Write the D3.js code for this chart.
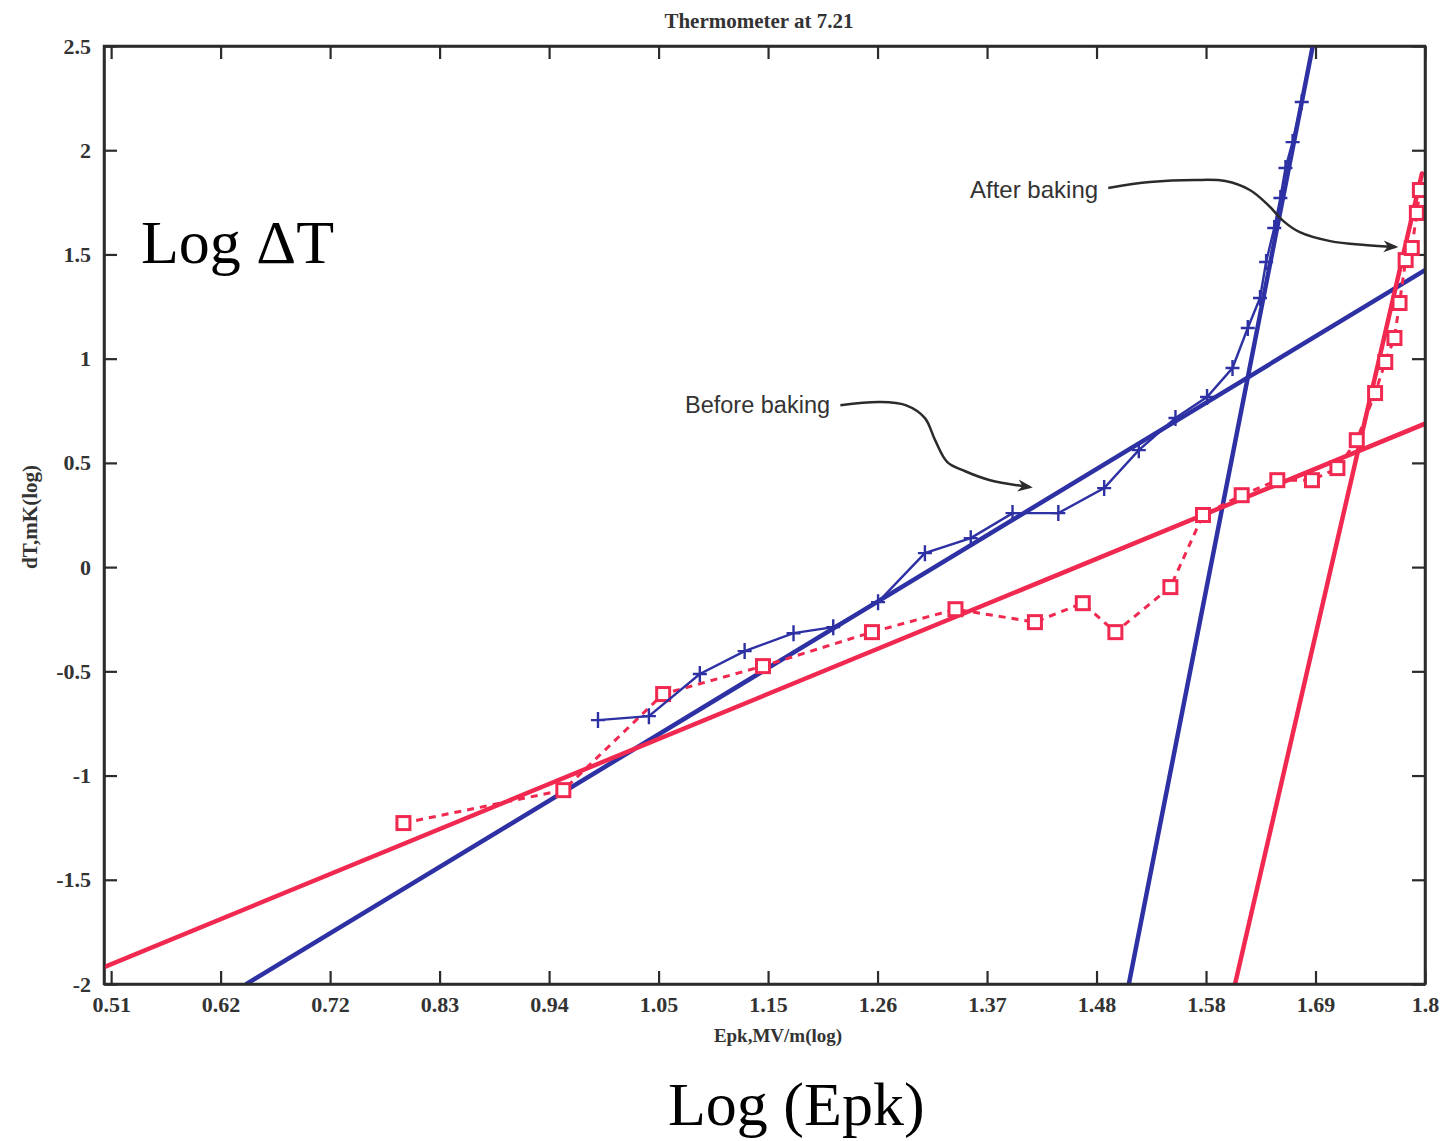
<!DOCTYPE html>
<html>
<head>
<meta charset="utf-8">
<script src="https://cdn.jsdelivr.net/npm/d3@7"></script>
<style>
  html, body { margin: 0; padding: 0; background: #fff; }
  svg { display: block; }
</style>
</head>
<body>
<svg id="chart" width="1450" height="1141"></svg>
<script>
// Measured thermometer response: log peak field (MV/m) vs log temperature rise (mK)
const beforeX = [0.988, 1.038, 1.088, 1.132, 1.180, 1.219, 1.263, 1.309, 1.354, 1.395, 1.440, 1.485,
                 1.519, 1.555, 1.586, 1.611, 1.626, 1.638, 1.644, 1.652, 1.658, 1.663, 1.670, 1.679];
const beforeY = [-0.734, -0.715, -0.513, -0.403, -0.317, -0.288, -0.168, 0.067, 0.139, 0.259, 0.259, 0.379,
                 0.561, 0.715, 0.816, 0.955, 1.147, 1.291, 1.464, 1.627, 1.771, 1.915, 2.039, 2.231];

const afterX = [0.797, 0.954, 1.052, 1.150, 1.257, 1.339, 1.417, 1.464, 1.496, 1.550, 1.582, 1.620,
                1.655, 1.689, 1.714, 1.733, 1.751, 1.761, 1.770, 1.775, 1.781, 1.787, 1.792, 1.795];
const afterY = [-1.228, -1.070, -0.609, -0.475, -0.312, -0.202, -0.264, -0.173, -0.312, -0.096, 0.250, 0.345,
                0.417, 0.417, 0.475, 0.609, 0.835, 0.984, 1.099, 1.267, 1.473, 1.531, 1.699, 1.809];

// Straight-line fits: slope, intercept and the x span each one covers
const fitSeries    = ["before", "before", "after", "after"];
const fitSlopes    = [2.96, 24.92, 2.01, 21.19];
const fitIntercept = [-3.903, -39.61, -2.93, -36.19];
const fitFrom      = [0.643, 1.5094, 0.503, 1.6134];
const fitTo        = [1.8, 1.690, 1.8, 1.797];

// Callout arrows (data coordinates)
const afterArrowX  = [1.489, 1.530, 1.574, 1.604, 1.628, 1.646, 1.661, 1.677, 1.707, 1.741, 1.771];
const afterArrowY  = [1.819, 1.847, 1.857, 1.852, 1.809, 1.737, 1.660, 1.607, 1.564, 1.545, 1.536];
const beforeArrowX = [1.226, 1.265, 1.290, 1.309, 1.319, 1.331, 1.348, 1.373, 1.412];
const beforeArrowY = [0.777, 0.792, 0.777, 0.715, 0.609, 0.504, 0.461, 0.417, 0.384];

// Axis ticks
const xTickValues = [0.51, 0.6175, 0.725, 0.8325, 0.94, 1.0475, 1.155, 1.2625, 1.37, 1.4775, 1.585, 1.6925, 1.8];
const xTickLabels = ["0.51", "0.62", "0.72", "0.83", "0.94", "1.05", "1.15", "1.26", "1.37", "1.48", "1.58", "1.69", "1.8"];
const yTickValues = [-2, -1.5, -1, -0.5, 0, 0.5, 1, 1.5, 2, 2.5];
const yTickLabels = ["-2", "-1.5", "-1", "-0.5", "0", "0.5", "1", "1.5", "2", "2.5"];

const BLUE = "#2d31a3";
const RED = "#f1284f";
const INK = "#2b2b2b";
const SERIF = "'Liberation Serif', 'Times New Roman', serif";
const SANS = "'Liberation Sans', Arial, sans-serif";

const svg = d3.select("#chart");
const plotLeft = 104, plotRight = 1425, plotTop = 46, plotBottom = 984;

const x = d3.scaleLinear().domain([0.503, 1.8]).range([plotLeft, plotRight]);
const y = d3.scaleLinear().domain([-2, 2.5]).range([plotBottom, plotTop]);

svg.append("rect").attr("width", 1450).attr("height", 1141).attr("fill", "#fff");

const defs = svg.append("defs");
defs.append("clipPath").attr("id", "plot-clip")
  .append("rect").attr("x", plotLeft).attr("y", plotTop)
  .attr("width", plotRight - plotLeft).attr("height", plotBottom - plotTop);
defs.append("marker")
  .attr("id", "arrowhead")
  .attr("viewBox", "0 0 10 10")
  .attr("refX", 8).attr("refY", 5)
  .attr("markerWidth", 6).attr("markerHeight", 6)
  .attr("orient", "auto")
  .append("path")
  .attr("d", "M0,1 L10,5 L0,9 L3,5 Z")
  .attr("fill", INK);

// Axes with inward ticks on all four sides
function styleAxis(g) {
  g.select(".domain").attr("stroke", INK).attr("stroke-width", 2.5);
  g.selectAll(".tick line").attr("stroke", INK).attr("stroke-width", 2.2);
  g.selectAll(".tick text")
    .attr("fill", "#333")
    .style("font-family", SERIF)
    .style("font-weight", "bold")
    .style("font-size", "22px");
}

svg.append("g")
  .attr("transform", `translate(0,${plotBottom})`)
  .call(d3.axisBottom(x).tickValues(xTickValues)
    .tickFormat((d, i) => xTickLabels[i])
    .tickSizeInner(-13).tickSizeOuter(0).tickPadding(12))
  .call(styleAxis);

svg.append("g")
  .attr("transform", `translate(0,${plotTop})`)
  .call(d3.axisTop(x).tickValues(xTickValues).tickFormat("")
    .tickSizeInner(-13).tickSizeOuter(0))
  .call(styleAxis);

svg.append("g")
  .attr("transform", `translate(${plotLeft},0)`)
  .call(d3.axisLeft(y).tickValues(yTickValues)
    .tickFormat((d, i) => yTickLabels[i])
    .tickSizeInner(-13).tickSizeOuter(0).tickPadding(13))
  .call(styleAxis);

svg.append("g")
  .attr("transform", `translate(${plotRight},0)`)
  .call(d3.axisRight(y).tickValues(yTickValues).tickFormat("")
    .tickSizeInner(-13).tickSizeOuter(0))
  .call(styleAxis);

const plot = svg.append("g").attr("clip-path", "url(#plot-clip)");

// Fitted lines
const fits = fitSlopes.map((m, i) => ({
  series: fitSeries[i],
  pts: [[fitFrom[i], m * fitFrom[i] + fitIntercept[i]], [fitTo[i], m * fitTo[i] + fitIntercept[i]]]
}));
const lineXY = d3.line().x(d => x(d[0])).y(d => y(d[1]));

plot.selectAll("path.fit")
  .data(fits)
  .join("path")
  .attr("class", "fit")
  .attr("d", d => lineXY(d.pts))
  .attr("fill", "none")
  .attr("stroke", d => d.series === "before" ? BLUE : RED)
  .attr("stroke-width", 4.5)
  .attr("stroke-linecap", "round");

// After baking: dashed line with open squares
const afterPts = afterX.map((v, i) => [v, afterY[i]]);
plot.append("path")
  .attr("d", lineXY(afterPts))
  .attr("fill", "none")
  .attr("stroke", RED)
  .attr("stroke-width", 3)
  .attr("stroke-dasharray", "7,6");
plot.selectAll("rect.after")
  .data(afterPts)
  .join("rect")
  .attr("class", "after")
  .attr("x", d => x(d[0]) - 6.5)
  .attr("y", d => y(d[1]) - 6.5)
  .attr("width", 13).attr("height", 13)
  .attr("fill", "#fff")
  .attr("stroke", RED)
  .attr("stroke-width", 3);

// Before baking: solid line with plus markers
const beforePts = beforeX.map((v, i) => [v, beforeY[i]]);
plot.append("path")
  .attr("d", lineXY(beforePts))
  .attr("fill", "none")
  .attr("stroke", BLUE)
  .attr("stroke-width", 2.4);
plot.selectAll("path.before")
  .data(beforePts)
  .join("path")
  .attr("class", "before")
  .attr("transform", d => `translate(${x(d[0])},${y(d[1])})`)
  .attr("d", "M-7,0H7M0,-8V8")
  .attr("stroke", BLUE)
  .attr("stroke-width", 2.4);

// Frame
svg.append("rect")
  .attr("x", plotLeft).attr("y", plotTop)
  .attr("width", plotRight - plotLeft).attr("height", plotBottom - plotTop)
  .attr("fill", "none")
  .attr("stroke", INK)
  .attr("stroke-width", 2.5);

// Callouts
const curve = d3.line().x(d => x(d[0])).y(d => y(d[1])).curve(d3.curveCatmullRom);
[[afterArrowX, afterArrowY], [beforeArrowX, beforeArrowY]].forEach(([ax, ay]) => {
  svg.append("path")
    .attr("d", curve(ax.map((v, i) => [v, ay[i]])))
    .attr("fill", "none")
    .attr("stroke", INK)
    .attr("stroke-width", 2.5)
    .attr("marker-end", "url(#arrowhead)");
});

svg.append("text")
  .attr("x", 970).attr("y", 198)
  .attr("fill", "#333")
  .style("font-family", SANS).style("font-size", "24px")
  .text("After baking");
svg.append("text")
  .attr("x", 685).attr("y", 413)
  .attr("fill", "#333")
  .style("font-family", SANS).style("font-size", "23.5px")
  .text("Before baking");

// Titles and axis names
svg.append("text")
  .attr("x", 759).attr("y", 28)
  .attr("text-anchor", "middle")
  .attr("fill", "#333")
  .style("font-family", SERIF).style("font-weight", "bold").style("font-size", "21px")
  .text("Thermometer at 7.21");

svg.append("text")
  .attr("x", 778).attr("y", 1042)
  .attr("text-anchor", "middle")
  .attr("fill", "#333")
  .style("font-family", SERIF).style("font-weight", "bold").style("font-size", "19px")
  .text("Epk,MV/m(log)");

svg.append("text")
  .attr("transform", "translate(37,517) rotate(-90)")
  .attr("text-anchor", "middle")
  .attr("fill", "#333")
  .style("font-family", SERIF).style("font-weight", "bold").style("font-size", "21px")
  .text("dT,mK(log)");

svg.append("text")
  .attr("x", 141).attr("y", 263)
  .attr("fill", "#000")
  .style("font-family", SERIF).style("font-size", "62px")
  .text("Log ΔT");

svg.append("text")
  .attr("x", 668).attr("y", 1125)
  .attr("fill", "#000")
  .style("font-family", SERIF).style("font-size", "62px")
  .text("Log (Epk)");
</script>
</body>
</html>
